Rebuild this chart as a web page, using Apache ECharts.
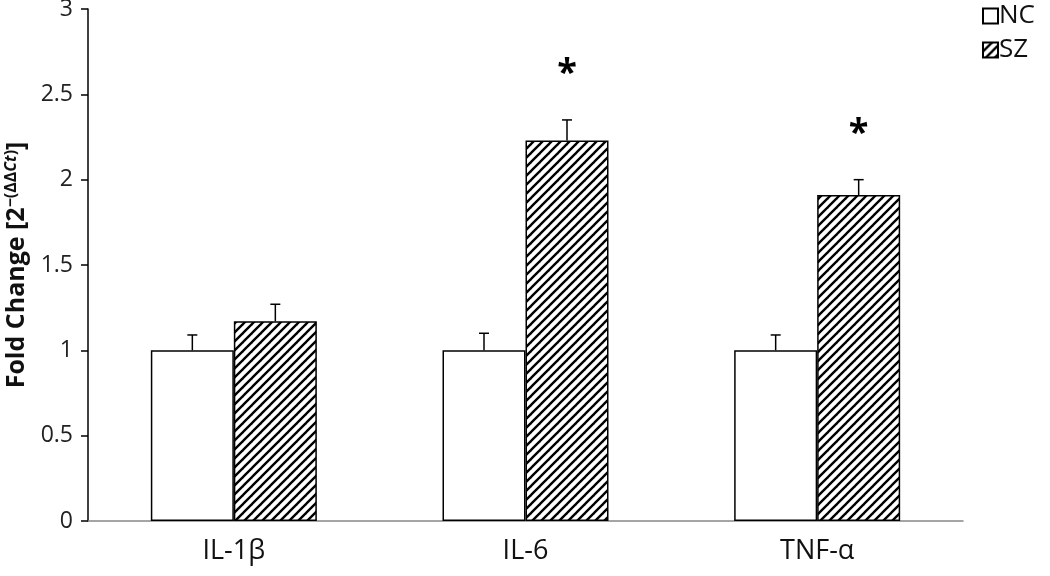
<!DOCTYPE html>
<html>
<head>
<meta charset="utf-8">
<script src="https://cdn.jsdelivr.net/npm/echarts@6/dist/echarts.min.js"></script>
<style>html,body{margin:0;padding:0;background:#fff}#c{width:1050px;height:576px}</style>
</head>
<body>
<div id="c"></div>
<script>
// ---- data ----
const categories = ['IL-1β', 'IL-6', 'TNF-α'];
const ncValues = [1.0, 1.0, 1.0];
const ncErrors = [0.09, 0.10, 0.09];
const szValues = [1.17, 2.23, 1.91];
const szErrors = [0.10, 0.12, 0.09];
const szStars = [null, 2.62, 2.27];
const yTicks = [0, 0.5, 1, 1.5, 2, 2.5, 3];

// ---- style ----
const BAR_W = 83;
const FONT = '"Open Sans", "Noto Sans", sans-serif';

function hatch() {
  const s = 9;
  const c = document.createElement('canvas');
  c.width = s; c.height = s;
  const g = c.getContext('2d');
  g.fillStyle = '#fff'; g.fillRect(0, 0, s, s);
  g.strokeStyle = '#000'; g.lineWidth = 2.4; g.lineCap = 'square';
  for (let k = -1; k <= 1; k++) {
    g.beginPath(); g.moveTo(k * s, s); g.lineTo(k * s + s, 0); g.stroke();
  }
  return c;
}
const hatchPattern = { image: hatch(), repeat: 'repeat' };

function errorSeries(values, errors, side) {
  return {
    type: 'custom',
    name: 'err' + side,
    silent: true,
    z: 5,
    data: values.map((v, i) => [i, v, v + errors[i]]),
    renderItem: function (params, api) {
      const base = api.coord([api.value(0), api.value(1)]);
      const top = api.coord([api.value(0), api.value(2)]);
      const x = base[0] + side * BAR_W / 2;
      return {
        type: 'group',
        children: [
          { type: 'line', shape: { x1: x, y1: base[1], x2: x, y2: top[1] }, style: { stroke: '#000', lineWidth: 1.5 } },
          { type: 'line', shape: { x1: x - 5, y1: top[1], x2: x + 5, y2: top[1] }, style: { stroke: '#000', lineWidth: 1.5 } }
        ]
      };
    }
  };
}

const chart = echarts.init(document.getElementById('c'), null, { renderer: 'canvas' });
chart.setOption({
  animation: false,
  backgroundColor: '#fff',
  grid: { left: 88, right: 87, top: 9, bottom: 55, containLabel: false, outerBoundsMode: 'none' },
  legend: {
    data: [{ name: 'NC', icon: 'rect' }, { name: 'SZ', icon: 'rect' }],
    orient: 'vertical',
    left: 977, top: -2,
    itemWidth: 15, itemHeight: 15, itemGap: 8,
    textStyle: { fontFamily: FONT, fontSize: 26, color: '#111', padding: [0, 0, 0, -4] }
  },
  xAxis: {
    type: 'category',
    data: categories,
    axisLine: { lineStyle: { color: '#888', width: 1.5 } },
    axisTick: { show: false },
    axisLabel: { fontFamily: FONT, fontSize: 27, color: '#111', margin: 17 }
  },
  yAxis: {
    type: 'value',
    min: 0, max: 3, interval: 0.5,
    name: 'Fold Change [2{sup|−(ΔΔ}{supi|Ct}{sup|)}]',
    nameLocation: 'middle',
    nameGap: 46,
    nameRotate: 90,
    nameTextStyle: {
      fontFamily: FONT, fontSize: 25, fontWeight: 'bold', color: '#111',
      rich: {
        sup: { fontFamily: FONT, fontSize: 16, fontWeight: 'bold', color: '#111', verticalAlign: 'top', padding: [0, 0, 12, 0] },
        supi: { fontFamily: FONT, fontSize: 16, fontWeight: 'bold', fontStyle: 'italic', color: '#111', verticalAlign: 'top', padding: [0, 0, 12, 0] }
      }
    },
    splitLine: { show: false },
    axisLine: { show: true, lineStyle: { color: '#000', width: 1.5 } },
    axisTick: { show: true, length: 7, lineStyle: { color: '#000', width: 1.5 } },
    axisLabel: {
      fontFamily: FONT, fontSize: 23, color: '#222', margin: 15,
      formatter: v => (yTicks.indexOf(v) >= 0 ? String(v) : '')
    }
  },
  series: [
    {
      name: 'NC', type: 'bar', data: ncValues, barWidth: BAR_W, barGap: '0%',
      itemStyle: { color: '#fff', borderColor: '#000', borderWidth: 1.5 }
    },
    {
      name: 'SZ', type: 'bar', data: szValues, barWidth: BAR_W, barGap: '0%',
      itemStyle: { color: hatchPattern, borderColor: '#000', borderWidth: 1.5 }
    },
    errorSeries(ncValues, ncErrors, -1),
    errorSeries(szValues, szErrors, 1),
    {
      type: 'custom',
      name: 'stars',
      silent: true,
      z: 6,
      data: szStars.map((v, i) => [i, v]).filter(d => d[1] !== null),
      renderItem: function (params, api) {
        const p = api.coord([api.value(0), api.value(1)]);
        return {
          type: 'text',
          x: p[0] + BAR_W / 2, y: p[1],
          style: { text: '*', fontFamily: FONT, fontSize: 36, fontWeight: 'bold', fill: '#000', align: 'center', verticalAlign: 'middle' }
        };
      }
    }
  ]
});
</script>
</body>
</html>
